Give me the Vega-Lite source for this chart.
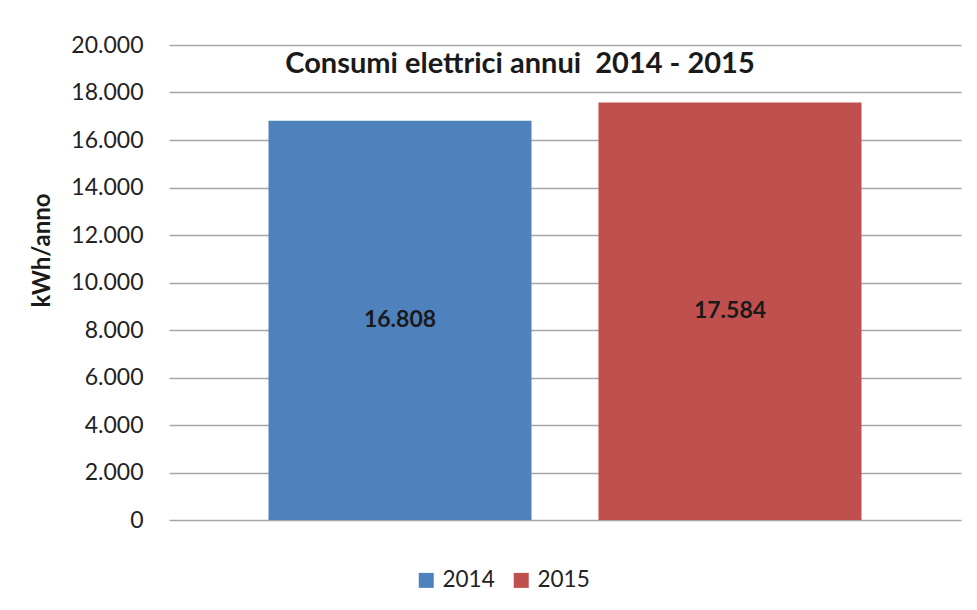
{
  "$schema": "https://vega.github.io/schema/vega-lite/v6.json",
  "autosize": "none",
  "width": 792,
  "height": 475,
  "padding": {"left": 169, "top": 45, "right": 16, "bottom": 90},
  "background": "white",
  "config": {
    "view": {"stroke": null},
    "font": "Lato",
    "axis": {"labelFont": "Lato", "titleFont": "Lato"}
  },
  "title": {
    "text": "Consumi elettrici annui\u00a0 2014 - 2015",
    "font": "Lato",
    "fontSize": 29,
    "fontWeight": "bold",
    "color": "#1a1a1a",
    "anchor": "middle",
    "baseline": "alphabetic",
    "offset": 0,
    "dy": 68,
    "dx": -45
  },
  "data": {
    "values": [
      {"anno": "2014", "consumo": 16808, "etichetta": "16.808"},
      {"anno": "2015", "consumo": 17584, "etichetta": "17.584"}
    ]
  },
  "encoding": {
    "x": {
      "field": "anno",
      "type": "nominal",
      "scale": {"paddingInner": 0.203, "paddingOuter": 0.3015},
      "axis": null
    }
  },
  "layer": [
    {
      "mark": {"type": "bar"},
      "encoding": {
        "y": {
          "field": "consumo",
          "type": "quantitative",
          "scale": {"domain": [0, 20000], "nice": false},
          "axis": {
            "values": [0, 2000, 4000, 6000, 8000, 10000, 12000, 14000, 16000, 18000, 20000],
            "labelExpr": "replace(format(datum.value, ','), ',', '.')",
            "labelFontSize": 23,
            "labelColor": "#222222",
            "labelPadding": 26,
            "ticks": false,
            "domain": false,
            "grid": true,
            "gridColor": "#a6a6a6",
            "gridWidth": 1.5,
            "title": "kWh/anno",
            "titleFontSize": 24,
            "titleFontWeight": "bold",
            "titleColor": "#1a1a1a",
            "titleX": -127,
            "titleY": 205,
            "titleAngle": -90,
            "titleBaseline": "middle",
            "titleAlign": "center"
          }
        },
        "color": {
          "field": "anno",
          "type": "nominal",
          "scale": {"domain": ["2014", "2015"], "range": ["#4f81bd", "#c0504d"]},
          "legend": {
            "title": null,
            "orient": "none",
            "direction": "horizontal",
            "legendX": 246,
            "legendY": 524,
            "padding": 0,
            "symbolType": "square",
            "symbolSize": 225,
            "symbolStrokeWidth": 0,
            "labelFontSize": 22.5,
            "labelColor": "#222222",
            "labelFont": "Lato",
            "columnPadding": 15,
            "labelOffset": 5
          }
        }
      }
    },
    {
      "transform": [{"calculate": "datum.consumo / 2", "as": "meta"}],
      "mark": {"type": "text", "fontSize": 23, "fontWeight": "bold", "color": "#1a1a1a", "baseline": "middle"},
      "encoding": {
        "y": {"field": "meta", "type": "quantitative"},
        "text": {"field": "etichetta", "type": "nominal"}
      }
    }
  ]
}
